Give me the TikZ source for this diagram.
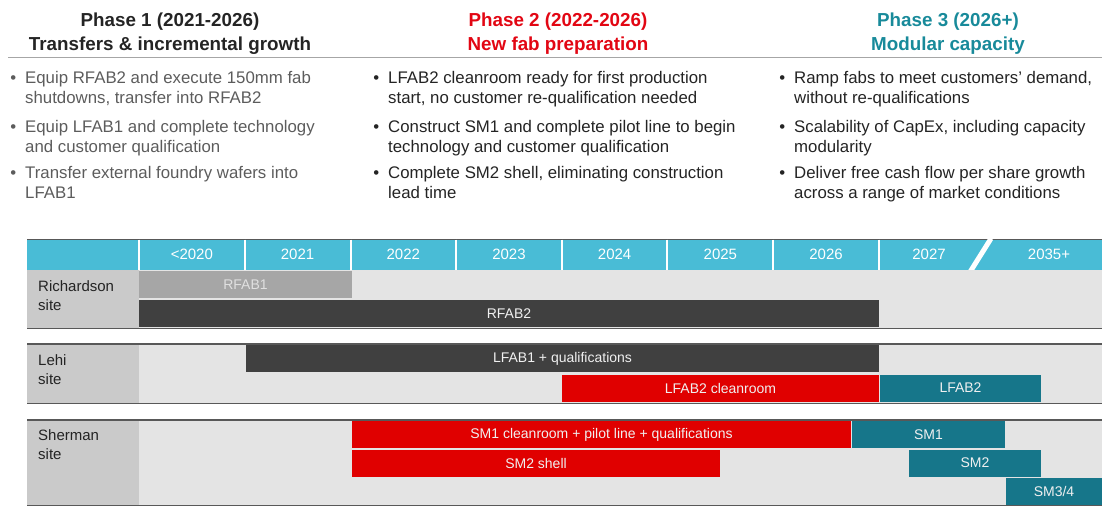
\documentclass[tikz,border=0pt]{standalone}
\usepackage{fontspec}
\setmainfont{Liberation Sans}
\usepackage{tikz}
\usetikzlibrary{positioning}
\definecolor{BandCyan}{RGB}{73, 188, 214}
\definecolor{FabRed}{RGB}{224, 0, 0}
\definecolor{FabTeal}{RGB}{22, 118, 138}
\definecolor{BarDark}{RGB}{64, 64, 64}
\definecolor{BarGrey}{RGB}{166, 166, 166}
\definecolor{RowGrey}{RGB}{228, 228, 228}
\definecolor{SiteGrey}{RGB}{202, 202, 202}
\definecolor{RuleGrey}{RGB}{88, 88, 88}
\definecolor{TextGrey}{RGB}{92, 92, 92}
\definecolor{TextDark}{RGB}{36, 36, 36}
\definecolor{HeadRed}{RGB}{226, 6, 19}
\definecolor{HeadTeal}{RGB}{24, 138, 154}
\newcommand{\itemdot}{\llap{\textbullet\hspace{9pt}}}

\begin{document}
\begin{tikzpicture}[
    x=1pt, y=-1pt,
    phase/.style={align=center, inner sep=0pt, font=\fontsize{18.8}{24}\selectfont\bfseries},
    point/.style={anchor=north west, align=left, inner sep=0pt, font=\fontsize{16.8}{20.5}\selectfont},
    year/.style={text=white, inner sep=0pt, font=\fontsize{15}{17}\selectfont},
    band/.style={rectangle, fill=BandCyan, anchor=north west, inner sep=0pt, minimum width=1075pt, minimum height=31pt},
    row/.style={rectangle, fill=RowGrey, anchor=north west, inner sep=0pt, minimum width=963pt},
    sitecell/.style={rectangle, fill=SiteGrey, anchor=north west, inner sep=0pt, minimum width=112pt},
    site/.style={anchor=north west, align=left, inner sep=0pt, text=TextDark, font=\fontsize{15}{19}\selectfont},
    bar/.style={rectangle, anchor=north west, inner sep=0pt, outer sep=0pt, minimum height=27pt, text=white!94!black, font=\fontsize{14}{16}\selectfont},
    rule/.style={RuleGrey, line width=1.6pt}
]
    \useasboundingbox (0,0) rectangle (1102,507);

    % Fases
    \node[phase, text=TextDark] (ph1) at (170,33.5) {Phase 1 (2021-2026)\\Transfers \& incremental growth};
    \node[phase, text=HeadRed] (ph2) at (558,33.5) {Phase 2 (2022-2026)\\New fab preparation};
    \node[phase, text=HeadTeal] (ph3) at (948,33.5) {Phase 3 (2026+)\\Modular capacity};
    \draw[black!35, line width=1.8pt] (8,57.5) -- (1102,57.5);

    % Puntos fase 1
    \node[point, text=TextGrey] (p1a) at (25,71) {\itemdot Equip RFAB2 and execute 150mm fab\\shutdowns, transfer into RFAB2};
    \node[point, text=TextGrey] (p1b) at (25,120) {\itemdot Equip LFAB1 and complete technology\\and customer qualification};
    \node[point, text=TextGrey] (p1c) at (25,166) {\itemdot Transfer external foundry wafers into\\LFAB1};

    % Puntos fase 2
    \node[point, text=TextDark] (p2a) at (388,71) {\itemdot LFAB2 cleanroom ready for first production\\start, no customer re-qualification needed};
    \node[point, text=TextDark] (p2b) at (388,120) {\itemdot Construct SM1 and complete pilot line to begin\\technology and customer qualification};
    \node[point, text=TextDark] (p2c) at (388,166) {\itemdot Complete SM2 shell, eliminating construction\\lead time};

    % Puntos fase 3
    \node[point, text=TextDark] (p3a) at (794,71) {\itemdot Ramp fabs to meet customers' demand,\\without re-qualifications};
    \node[point, text=TextDark] (p3b) at (794,120) {\itemdot Scalability of CapEx, including capacity\\modularity};
    \node[point, text=TextDark] (p3c) at (794,166) {\itemdot Deliver free cash flow per share growth\\across a range of market conditions};

    % Barra de años
    \node[band] (yearband) at (27,239) {};
    \draw[RuleGrey, line width=1pt] (yearband.north west) -- (yearband.north east);
    \foreach \x in {139,245,351,456,562,667,773,879}
        \draw[white, line width=1.2pt] (\x,239.5) -- (\x,270);
    \draw[white, line width=5pt] (970,272) -- (991,238.5);
    \foreach \yr [count=\i] in {<2020,2021,2022,2023,2024,2025,2026}
        \node[year] (yr\i) at ({139+105.7*\i-52.85},254.5) {\yr};
    \node[year] (yr8) at (929,254.5) {2027};
    \node[year] (yr9) at (1049,254.5) {2035+};

    % Richardson
    \node[row, minimum height=58pt] (richrow) at (139,270) {};
    \node[sitecell, minimum height=58pt] (richcell) at (27,270) {};
    \node[site] (richlbl) at (38,280) {Richardson\\site};
    \node[bar, fill=BarGrey, minimum width=213pt, text=white!88!black] (rfab1) at (139,271) {RFAB1};
    \node[bar, fill=BarDark, minimum width=740pt] (rfab2) at (139,300) {RFAB2};
    \draw[rule] (richcell.south west) -- (richrow.south east);

    % Lehi
    \node[row, minimum height=59pt] (lehirow) at (139,344) {};
    \node[sitecell, minimum height=59pt] (lehicell) at (27,344) {};
    \node[site] (lehilbl) at (38,354) {Lehi\\site};
    \node[bar, fill=BarDark, minimum width=633pt] (lfab1) at (246,345) {LFAB1 + qualifications};
    \node[bar, fill=FabRed, minimum width=317pt] (lfab2clean) at (562,374.5) {LFAB2 cleanroom};
    \node[bar, fill=FabTeal, minimum width=161pt] (lfab2) at (880,374.5) {LFAB2};
    \draw[rule] (lehicell.north west) -- (lehirow.north east);
    \draw[rule] (lehicell.south west) -- (lehirow.south east);

    % Sherman
    \node[row, minimum height=85pt] (sherrow) at (139,420) {};
    \node[sitecell, minimum height=85pt] (shercell) at (27,420) {};
    \node[site] (sherlbl) at (38,429) {Sherman\\site};
    \node[bar, fill=FabRed, minimum width=499pt] (sm1clean) at (352,421) {SM1 cleanroom + pilot line + qualifications};
    \node[bar, fill=FabRed, minimum width=368pt] (sm2shell) at (352,449.5) {SM2 shell};
    \node[bar, fill=FabTeal, minimum width=153pt] (sm1) at (852,421) {SM1};
    \node[bar, fill=FabTeal, minimum width=132pt] (sm2) at (909,449.5) {SM2};
    \node[bar, fill=FabTeal, minimum width=96pt] (sm34) at (1006,478) {SM3/4};
    \draw[rule] (shercell.north west) -- (sherrow.north east);
    \draw[rule] (shercell.south west) -- (sherrow.south east);
\end{tikzpicture}
\end{document}
